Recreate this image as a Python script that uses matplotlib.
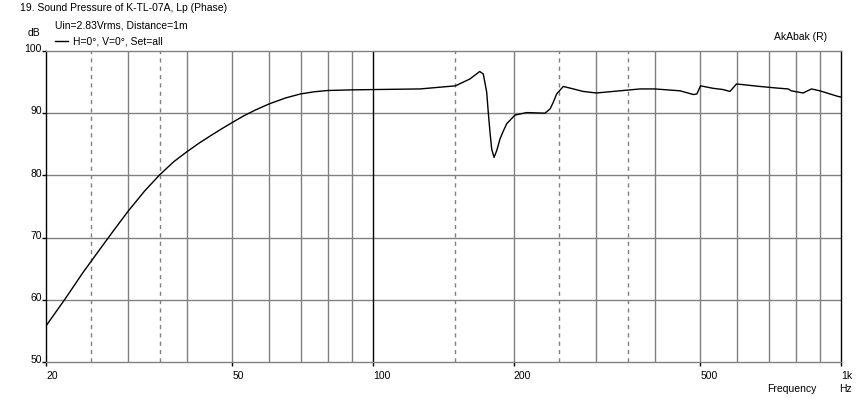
import matplotlib
matplotlib.use("Agg")
import matplotlib.pyplot as plt
import numpy as np

plt.rcParams['font.family'] = ['Liberation Sans', 'DejaVu Sans']

# response
freq = [20, 22, 24, 26, 28, 30, 32.5, 35, 37.5, 40, 42.5, 45, 47.5, 50, 53, 56, 60,
        65, 70, 75, 80, 90, 100,
        126, 150, 161, 169, 172, 174.9, 176.3, 177.8, 179.3, 181.4, 183.8, 186.8,
        190, 193, 201, 213, 233, 239, 242.7, 246.8, 255, 268, 281, 300, 337, 372,
        400, 453, 483.7, 492, 501, 533, 560, 579, 598, 671, 728, 771, 783, 830,
        865, 901, 985, 1000]
spl = [55.8, 60.2, 64.4, 68.0, 71.3, 74.3, 77.5, 80.1, 82.2, 83.8, 85.2, 86.4, 87.5, 88.5,
       89.6, 90.5, 91.5, 92.45, 93.1, 93.45, 93.65, 93.75, 93.8,
       93.9, 94.4, 95.5, 96.7, 96.3, 93.4, 90.1, 86.9, 84.2, 82.9, 84.0, 85.9,
       87.2, 88.3, 89.7, 90.1, 90.0, 90.7, 91.75, 93.1, 94.3, 93.9, 93.5, 93.25, 93.6, 93.9,
       93.9, 93.6, 93.0, 93.1, 94.4, 94.0, 93.8, 93.5, 94.7, 94.3, 94.05, 93.9, 93.6, 93.25,
       93.9, 93.6, 92.7, 92.6]

major_f = [20, 50, 100, 200, 500, 1000]
major_lbl = ['20', '50', '100', '200', '500', '1k']
solid_f = [30, 40, 50, 60, 70, 80, 90, 200, 300, 400, 500, 600, 700, 800, 900]
dashed_f = [25, 35, 150, 250, 350]
y_ticks = [50, 60, 70, 80, 90, 100]

W, H = 862, 402
fig = plt.figure(figsize=(W / 100, H / 100), dpi=100)
L, R, T, B = 46, 841, 52, 363
ax = fig.add_axes([L / W, 1 - B / H, (R - L) / W, (B - T) / H])
ax.set_xscale('log')
ax.set_xlim(20, 1000)
ax.set_ylim(50, 100)

grey = '#808080'
for f in solid_f:
    ax.axvline(f, color=grey, lw=1.0, zorder=1)
for f in dashed_f:
    ax.axvline(f, color=grey, lw=1.0, ls=(0, (3, 3)), zorder=1)
for v in y_ticks[1:-1]:
    ax.axhline(v, color=grey, lw=1.0, zorder=1)
ax.axvline(100, color='black', lw=1.0, zorder=1)

ax.plot(freq, spl, color='black', lw=1.0, zorder=3)

ax.spines['left'].set_color('black')
ax.spines['right'].set_color('black')
ax.spines['top'].set_color(grey)
ax.spines['bottom'].set_color(grey)
for s in ax.spines.values():
    s.set_linewidth(1.0)

ax.xaxis.set_minor_locator(matplotlib.ticker.NullLocator())
ax.set_xticks(major_f)
ax.set_xticklabels([])
ax.set_yticks(y_ticks)
ax.set_yticklabels([])
ax.tick_params(axis='both', length=3, width=1, color='black', direction='out')

fs = 7.5
for f, lb in zip(major_f, major_lbl):
    ax.annotate(lb, (f, 50), xytext=(0, -6), textcoords='offset points',
                ha='left', va='top', fontsize=fs)
for v in y_ticks:
    ax.annotate(str(v), (20, v), xytext=(-3, 2), textcoords='offset points',
                ha='right', va='center', fontsize=fs)

fig.text(20 / W, 1 - 8 / H, '19. Sound Pressure of K-TL-07A, Lp (Phase)', fontsize=fs, va='center')
fig.text(55 / W, 1 - 26 / H, 'Uin=2.83Vrms, Distance=1m', fontsize=fs, va='center')
fig.text(28 / W, 1 - 33 / H, 'dB', fontsize=fs, va='center')
fig.add_artist(plt.Line2D([55 / W, 68 / W], [1 - 42 / H, 1 - 42 / H], color='black', lw=1.0))
fig.text(73 / W, 1 - 42 / H, 'H=0°, V=0°, Set=all', fontsize=fs, va='center')
fig.text(827 / W, 1 - 37 / H, 'AkAbak (R)', fontsize=fs, va='center', ha='right')
fig.text(817 / W, 1 - 389 / H, 'Frequency', fontsize=fs, va='center', ha='right')
fig.text(839 / W, 1 - 389 / H, 'Hz', fontsize=fs, va='center', ha='left')

fig.savefig('out.png', dpi=100)
